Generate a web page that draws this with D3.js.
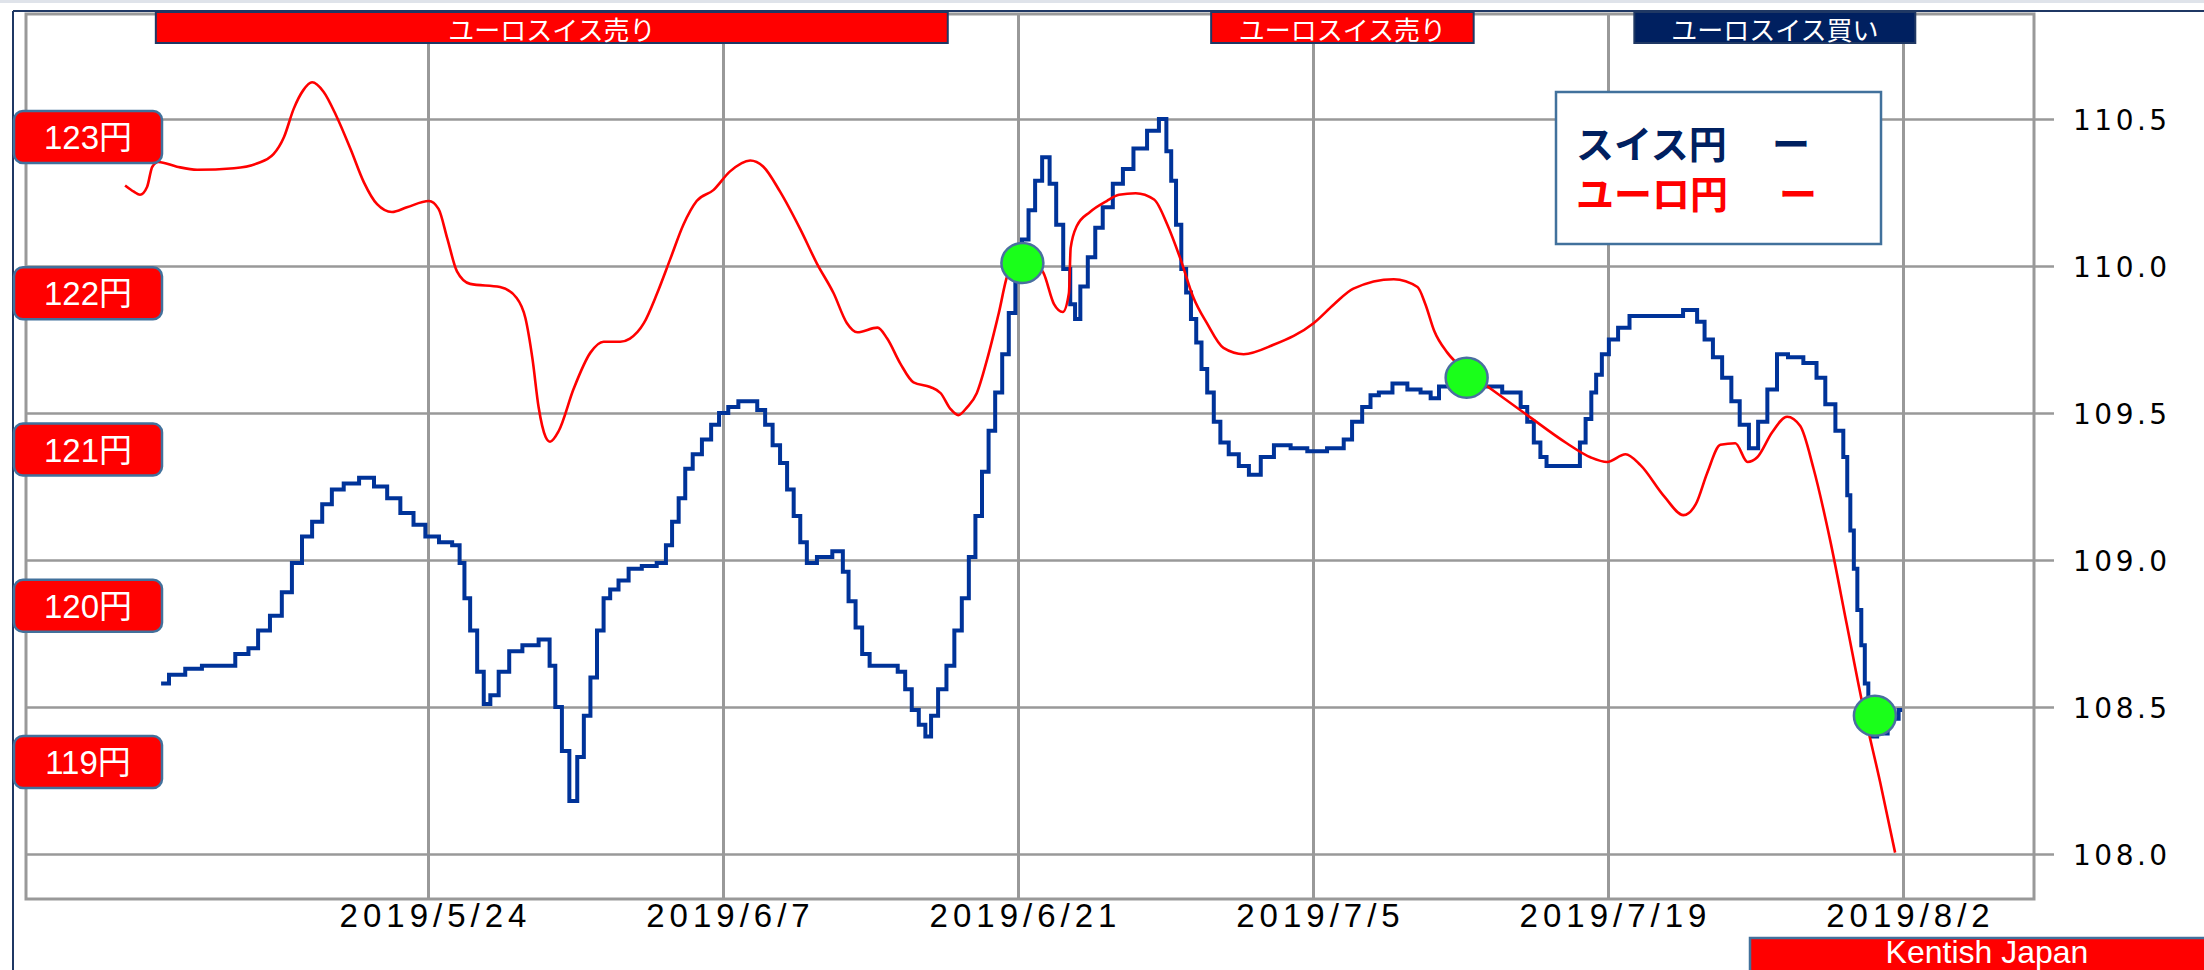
<!DOCTYPE html>
<html>
<head>
<meta charset="utf-8">
<script src="https://cdn.jsdelivr.net/npm/d3@7"></script>
<style>
   body { margin: 0; background: #fff; }
   svg { display: block; }
</style>
</head>
<body>
<svg id="chart" width="2204" height="970"></svg>
<script>
// tick labels
const dateTicks = ['5/24 0', '6/7 0', '6/21 0', '7/5 0', '7/19 0', '8/2 0'];
const chfTicks = [108.0, 108.5, 109.0, 109.5, 110.0, 110.5];
const eurTicks = [119, 120, 121, 122, 123];

// スイス円 (right axis) : [time, rate]
const chfJpy = [
   ['5/11 8', 108.58], ['5/12 2', 108.61], ['5/12 21', 108.63], ['5/13 16', 108.64], ['5/14 11', 108.64],
   ['5/15 6', 108.68], ['5/15 17', 108.70], ['5/16 4', 108.76], ['5/16 20', 108.81], ['5/17 7', 108.89],
   ['5/17 19', 108.99], ['5/18 6', 109.08], ['5/18 18', 109.13], ['5/19 5', 109.19], ['5/19 16', 109.24],
   ['5/20 8', 109.26], ['5/21 3', 109.28], ['5/21 18', 109.25], ['5/22 9', 109.21], ['5/23 0', 109.16],
   ['5/23 15', 109.12], ['5/24 3', 109.08], ['5/24 22', 109.06], ['5/25 9', 109.05], ['5/25 15', 108.99],
   ['5/25 20', 108.87], ['5/26 4', 108.76], ['5/26 12', 108.62], ['5/26 19', 108.51], ['5/27 3', 108.54],
   ['5/27 14', 108.62], ['5/28 3', 108.69], ['5/28 20', 108.71], ['5/29 16', 108.73], ['5/29 21', 108.64],
   ['5/30 5', 108.50], ['5/30 12', 108.35], ['5/30 22', 108.18], ['5/31 6', 108.33], ['5/31 13', 108.47],
   ['5/31 21', 108.60], ['6/1 4', 108.76], ['6/1 12', 108.87], ['6/1 19', 108.90], ['6/2 7', 108.93],
   ['6/2 18', 108.97], ['6/3 13', 108.98], ['6/4 4', 108.99], ['6/4 10', 109.05], ['6/4 18', 109.13],
   ['6/5 1', 109.21], ['6/5 9', 109.31], ['6/5 18', 109.36], ['6/6 6', 109.41], ['6/6 15', 109.46],
   ['6/7 0', 109.50], ['6/7 12', 109.52], ['6/7 23', 109.54], ['6/8 10', 109.54], ['6/8 20', 109.51],
   ['6/9 4', 109.46], ['6/9 13', 109.39], ['6/9 21', 109.33], ['6/10 5', 109.24], ['6/10 12', 109.15],
   ['6/10 20', 109.06], ['6/11 3', 108.99], ['6/11 19', 109.01], ['6/12 14', 109.03], ['6/12 19', 108.96],
   ['6/13 3', 108.86], ['6/13 11', 108.77], ['6/13 18', 108.68], ['6/14 4', 108.64], ['6/15 2', 108.64],
   ['6/15 12', 108.62], ['6/15 19', 108.56], ['6/16 3', 108.49], ['6/16 11', 108.44], ['6/16 18', 108.40],
   ['6/17 0', 108.47], ['6/17 10', 108.56], ['6/17 19', 108.64], ['6/18 4', 108.76], ['6/18 12', 108.87],
   ['6/18 20', 109.01], ['6/19 3', 109.15], ['6/19 11', 109.30], ['6/19 18', 109.44], ['6/20 2', 109.57],
   ['6/20 10', 109.70], ['6/20 17', 109.84], ['6/21 1', 109.99], ['6/21 8', 110.09], ['6/21 16', 110.19],
   ['6/21 23', 110.29], ['6/22 8', 110.37], ['6/22 16', 110.28], ['6/22 23', 110.14], ['6/23 8', 109.99],
   ['6/23 15', 109.87], ['6/23 19', 109.82], ['6/24 3', 109.93], ['6/24 12', 110.03], ['6/24 20', 110.13],
   ['6/25 5', 110.20], ['6/25 19', 110.28], ['6/26 4', 110.33], ['6/26 19', 110.40], ['6/27 11', 110.46],
   ['6/27 22', 110.50], ['6/28 4', 110.39], ['6/28 9', 110.29], ['6/28 15', 110.14], ['6/28 21', 109.99],
   ['6/29 2', 109.91], ['6/29 8', 109.82], ['6/29 14', 109.74], ['6/29 20', 109.65], ['6/30 3', 109.57],
   ['6/30 11', 109.47], ['6/30 18', 109.40], ['7/1 6', 109.36], ['7/1 17', 109.32], ['7/2 5', 109.29],
   ['7/2 20', 109.35], ['7/3 11', 109.39], ['7/4 10', 109.38], ['7/5 1', 109.37], ['7/6 7', 109.38],
   ['7/6 15', 109.41], ['7/7 2', 109.47], ['7/7 14', 109.52], ['7/7 21', 109.56], ['7/8 9', 109.57],
   ['7/9 4', 109.60], ['7/9 19', 109.58], ['7/10 10', 109.57], ['7/10 18', 109.55], ['7/11 5', 109.59],
   ['7/12 7', 109.62], ['7/13 6', 109.59], ['7/14 17', 109.57], ['7/15 0', 109.52], ['7/15 8', 109.47],
   ['7/15 15', 109.40], ['7/15 23', 109.35], ['7/16 5', 109.32], ['7/17 13', 109.32], ['7/17 19', 109.40],
   ['7/18 2', 109.48], ['7/18 8', 109.57], ['7/18 13', 109.63], ['7/18 21', 109.70], ['7/19 5', 109.75],
   ['7/19 18', 109.79], ['7/20 7', 109.83], ['7/21 2', 109.83], ['7/22 1', 109.83], ['7/23 2', 109.85],
   ['7/23 9', 109.81], ['7/23 19', 109.75], ['7/24 4', 109.69], ['7/24 16', 109.62], ['7/25 1', 109.54],
   ['7/25 11', 109.46], ['7/25 22', 109.38], ['7/26 8', 109.47], ['7/26 19', 109.58], ['7/27 6', 109.70],
   ['7/27 20', 109.69], ['7/28 17', 109.67], ['7/29 2', 109.62], ['7/29 13', 109.53], ['7/30 1', 109.44],
   ['7/30 7', 109.35], ['7/30 10', 109.22], ['7/30 14', 109.10], ['7/30 18', 108.97], ['7/30 22', 108.83],
   ['7/31 3', 108.71], ['7/31 6', 108.58], ['7/31 11', 108.48], ['7/31 15', 108.40], ['7/31 22', 108.41],
   ['8/1 15', 108.46], ['8/1 23', 108.49]
];

// ユーロ円 (left labels) : [time, rate]
const eurJpy = [
   ['5/9 15', 122.69], ['5/10 1', 122.65], ['5/10 8', 122.63], ['5/10 16', 122.68], ['5/10 22', 122.81],
   ['5/11 5', 122.84], ['5/12 2', 122.81], ['5/13 1', 122.79], ['5/14 19', 122.80], ['5/15 21', 122.83],
   ['5/16 16', 122.89], ['5/17 4', 123.00], ['5/17 15', 123.18], ['5/18 2', 123.30], ['5/18 12', 123.35],
   ['5/19 1', 123.29], ['5/19 16', 123.13], ['5/20 8', 122.92], ['5/20 23', 122.71], ['5/21 14', 122.57],
   ['5/22 7', 122.52], ['5/23 0', 122.55], ['5/24 1', 122.59], ['5/24 12', 122.54], ['5/24 22', 122.35],
   ['5/25 9', 122.14], ['5/26 0', 122.06], ['5/27 10', 122.04], ['5/28 5', 121.97], ['5/28 15', 121.84],
   ['5/28 23', 121.58], ['5/29 6', 121.27], ['5/29 14', 121.08], ['5/29 19', 121.05], ['5/30 5', 121.12],
   ['5/30 22', 121.39], ['5/31 17', 121.62], ['6/1 8', 121.69], ['6/2 3', 121.69], ['6/2 14', 121.71],
   ['6/3 6', 121.81], ['6/3 21', 122.00], ['6/4 12', 122.22], ['6/5 3', 122.44], ['6/5 18', 122.59],
   ['6/6 13', 122.66], ['6/7 8', 122.78], ['6/8 7', 122.85], ['6/8 22', 122.81], ['6/9 17', 122.65],
   ['6/10 16', 122.41], ['6/11 11', 122.19], ['6/12 6', 122.00], ['6/12 21', 121.81], ['6/13 9', 121.75],
   ['6/14 8', 121.78], ['6/14 19', 121.71], ['6/15 10', 121.55], ['6/16 1', 121.43], ['6/16 20', 121.40],
   ['6/17 8', 121.36], ['6/17 19', 121.26], ['6/18 4', 121.22], ['6/18 14', 121.27], ['6/19 1', 121.36],
   ['6/19 13', 121.58], ['6/20 2', 121.87], ['6/20 13', 122.13], ['6/21 8', 122.24], ['6/22 5', 122.13],
   ['6/22 17', 121.93], ['6/23 3', 121.88], ['6/23 10', 122.00], ['6/23 12', 122.29], ['6/23 19', 122.43],
   ['6/24 10', 122.52], ['6/25 5', 122.59], ['6/25 19', 122.63], ['6/26 14', 122.64], ['6/27 11', 122.60],
   ['6/28 2', 122.44], ['6/28 17', 122.22], ['6/29 8', 121.97], ['6/29 23', 121.81], ['6/30 18', 121.65],
   ['7/1 17', 121.61], ['7/3 3', 121.67], ['7/5 1', 121.81], ['7/6 0', 121.93], ['7/6 22', 122.03],
   ['7/8 20', 122.09], ['7/9 23', 122.04], ['7/10 8', 121.93], ['7/10 18', 121.76], ['7/11 9', 121.62],
   ['7/12 7', 121.50], ['7/13 10', 121.39], ['7/15 4', 121.22], ['7/17 1', 121.04], ['7/18 4', 120.95],
   ['7/18 23', 120.92], ['7/19 20', 120.97], ['7/20 13', 120.90], ['7/21 16', 120.70], ['7/22 14', 120.58],
   ['7/23 4', 120.65], ['7/23 17', 120.85], ['7/24 8', 121.03], ['7/25 1', 121.04], ['7/25 15', 120.92],
   ['7/26 2', 120.95], ['7/26 19', 121.11], ['7/27 12', 121.21], ['7/28 3', 121.15], ['7/28 18', 120.88],
   ['7/29 13', 120.42], ['7/30 8', 119.88], ['7/31 3', 119.34], ['7/31 22', 118.87], ['8/1 15', 118.42]
];

// signal markers on スイス円
const signalDots = [['6/21 5', 110.01], ['7/12 7', 109.62], ['7/31 16', 108.47]];

// trade periods: [from, to, label, kind]
const tradeBands = [
   ['5/11 2', '6/17 16', 'ユーロスイス売り', 'sell'],
   ['6/30 4', '7/12 15', 'ユーロスイス売り', 'sell'],
   ['7/20 6', '8/2 14', 'ユーロスイス買い', 'buy']
];

const legendItems = [['スイス円', '#002060'], ['ユーロ円', '#ff0000']];

const parseTime = s => d3.timeParse('%Y/%m/%d %H')('2019/' + s);
const jp = "'Noto Sans CJK JP', sans-serif";
const latin = "'Liberation Sans', Arial, sans-serif";

const frame = { left: 26, top: 14, right: 2034, bottom: 899 };

const x = d3.scaleTime()
   .domain([parseTime(dateTicks[0]), parseTime(dateTicks[dateTicks.length - 1])])
   .range([428, 1903]);
const yChf = d3.scaleLinear().domain([108, 110.5]).range([854, 119]);
const yEur = d3.scaleLinear().domain([119, 123]).range([762, 137]);

const svg = d3.select('#chart');

svg.append('rect').attr('x', 0).attr('y', 0).attr('width', 2204).attr('height', 3).attr('fill', '#dfe3ea');

// outer navy frame
svg.append('line').attr('x1', 13).attr('y1', 11).attr('x2', 2204).attr('y2', 11)
   .attr('stroke', '#1f3864').attr('stroke-width', 2);
svg.append('line').attr('x1', 13).attr('y1', 11).attr('x2', 13).attr('y2', 970)
   .attr('stroke', '#1f3864').attr('stroke-width', 2);

// horizontal gridlines (run past the frame like ticks)
svg.append('g')
   .classed('gridline', true)
   .attr('transform', `translate(${frame.left},0)`)
   .call(d3.axisRight(yChf).tickValues(chfTicks).tickSize(2054 - frame.left).tickFormat(''))
   .call(g => g.select('.domain').remove())
   .selectAll('line')
   .attr('stroke', '#999').attr('stroke-width', 2.5);

// vertical gridlines
svg.append('g')
   .classed('gridline', true)
   .attr('transform', `translate(0,${frame.bottom})`)
   .call(d3.axisBottom(x).tickValues(dateTicks.map(parseTime)).tickSize(-(frame.bottom - frame.top)).tickFormat(''))
   .call(g => g.select('.domain').remove())
   .selectAll('line')
   .attr('stroke', '#999').attr('stroke-width', 3);

svg.append('rect')
   .attr('x', frame.left).attr('y', frame.top)
   .attr('width', frame.right - frame.left).attr('height', frame.bottom - frame.top)
   .attr('fill', 'none').attr('stroke', '#999').attr('stroke-width', 3);

// date labels
svg.append('g')
   .classed('x axis', true)
   .attr('transform', `translate(0,${frame.bottom})`)
   .call(d3.axisBottom(x).tickValues(dateTicks.map(parseTime)).tickSize(0).tickPadding(5)
      .tickFormat(d3.timeFormat('%Y/%-m/%-d')))
   .call(g => g.select('.domain').remove())
   .selectAll('text')
   .attr('dx', 7)
   .attr('fill', '#000')
   .style('font-family', latin)
   .style('font-size', '33px')
   .style('letter-spacing', '5px');

// right axis labels
svg.append('g')
   .classed('y axis', true)
   .attr('transform', 'translate(2073,0)')
   .call(d3.axisRight(yChf).tickValues(chfTicks).tickSize(0).tickPadding(0).tickFormat(d3.format('.1f')))
   .call(g => g.select('.domain').remove())
   .selectAll('text')
   .attr('dy', '0.36em')
   .attr('fill', '#000')
   .style('font-family', "'DejaVu Sans', sans-serif")
   .style('font-size', '28px')
   .style('letter-spacing', '3.5px');

// lines
const eurLine = d3.line()
   .x(d => x(parseTime(d[0])))
   .y(d => yEur(d[1]))
   .curve(d3.curveMonotoneX);
const chfLine = d3.line()
   .x(d => x(parseTime(d[0])))
   .y(d => yChf(d[1]))
   .curve(d3.curveStep);

svg.append('path')
   .datum(chfJpy)
   .attr('d', chfLine)
   .attr('fill', 'none')
   .attr('stroke', '#003399')
   .attr('stroke-width', 4);

svg.append('path')
   .datum(eurJpy)
   .attr('d', eurLine)
   .attr('fill', 'none')
   .attr('stroke', '#ff0000')
   .attr('stroke-width', 2.6);

svg.selectAll('.signal')
   .data(signalDots)
   .enter()
   .append('ellipse')
   .classed('signal', true)
   .attr('cx', d => x(parseTime(d[0])))
   .attr('cy', d => yChf(d[1]))
   .attr('rx', 21)
   .attr('ry', 20)
   .attr('fill', '#1aff1a')
   .attr('stroke', '#4a6fa0')
   .attr('stroke-width', 2.5);

// euro-yen labels on the left
const eurLabel = svg.selectAll('.eur-label')
   .data(eurTicks)
   .enter()
   .append('g')
   .classed('eur-label', true)
   .attr('transform', d => `translate(14,${yEur(d) - 26})`);
eurLabel.append('rect')
   .attr('width', 148).attr('height', 52).attr('rx', 9)
   .attr('fill', '#ff0000').attr('stroke', '#41719c').attr('stroke-width', 2.5);
eurLabel.append('text')
   .attr('x', 74).attr('y', 38)
   .attr('fill', '#fff')
   .style('text-anchor', 'middle')
   .style('font-family', latin + ", 'Noto Sans CJK JP'")
   .style('font-size', '33px')
   .text(d => d + '円');

// trade period banners
const band = svg.selectAll('.band')
   .data(tradeBands)
   .enter()
   .append('g')
   .classed('band', true);
band.append('rect')
   .attr('x', d => x(parseTime(d[0])))
   .attr('y', 12)
   .attr('width', d => x(parseTime(d[1])) - x(parseTime(d[0])))
   .attr('height', 31)
   .attr('fill', d => d[3] === 'sell' ? '#ff0000' : '#002060')
   .attr('stroke', '#1f3864')
   .attr('stroke-width', 2);
band.append('text')
   .attr('x', d => (x(parseTime(d[0])) + x(parseTime(d[1]))) / 2)
   .attr('y', 28)
   .attr('dominant-baseline', 'central')
   .attr('fill', '#fff')
   .style('text-anchor', 'middle')
   .style('font-family', jp)
   .style('font-size', '26px')
   .text(d => d[2]);

// legend
const legend = svg.append('g').attr('transform', 'translate(1556,92)');
legend.append('rect')
   .attr('width', 325).attr('height', 152)
   .attr('fill', '#fff').attr('stroke', '#41719c').attr('stroke-width', 2.5);
legend.selectAll('.name')
   .data(legendItems)
   .enter()
   .append('text')
   .classed('name', true)
   .attr('x', 20)
   .attr('y', (d, i) => 66 + i * 50)
   .attr('fill', d => d[1])
   .style('font-family', jp)
   .style('font-size', '38px')
   .style('font-weight', 700)
   .text(d => d[0]);
legend.selectAll('.dash')
   .data(legendItems)
   .enter()
   .append('text')
   .classed('dash', true)
   .attr('x', (d, i) => 216 + i * 7)
   .attr('y', (d, i) => 66 + i * 50)
   .attr('fill', d => d[1])
   .style('font-family', jp)
   .style('font-size', '38px')
   .style('font-weight', 700)
   .text('ー');

// credit
svg.append('rect')
   .attr('x', 1750).attr('y', 938).attr('width', 480).attr('height', 50)
   .attr('fill', '#ff0000').attr('stroke', '#41719c').attr('stroke-width', 2.5);
svg.append('text')
   .attr('x', 1987).attr('y', 963)
   .attr('fill', '#fff')
   .style('text-anchor', 'middle')
   .style('font-family', latin)
   .style('font-size', '32px')
   .text('Kentish Japan');
</script>
</body>
</html>
